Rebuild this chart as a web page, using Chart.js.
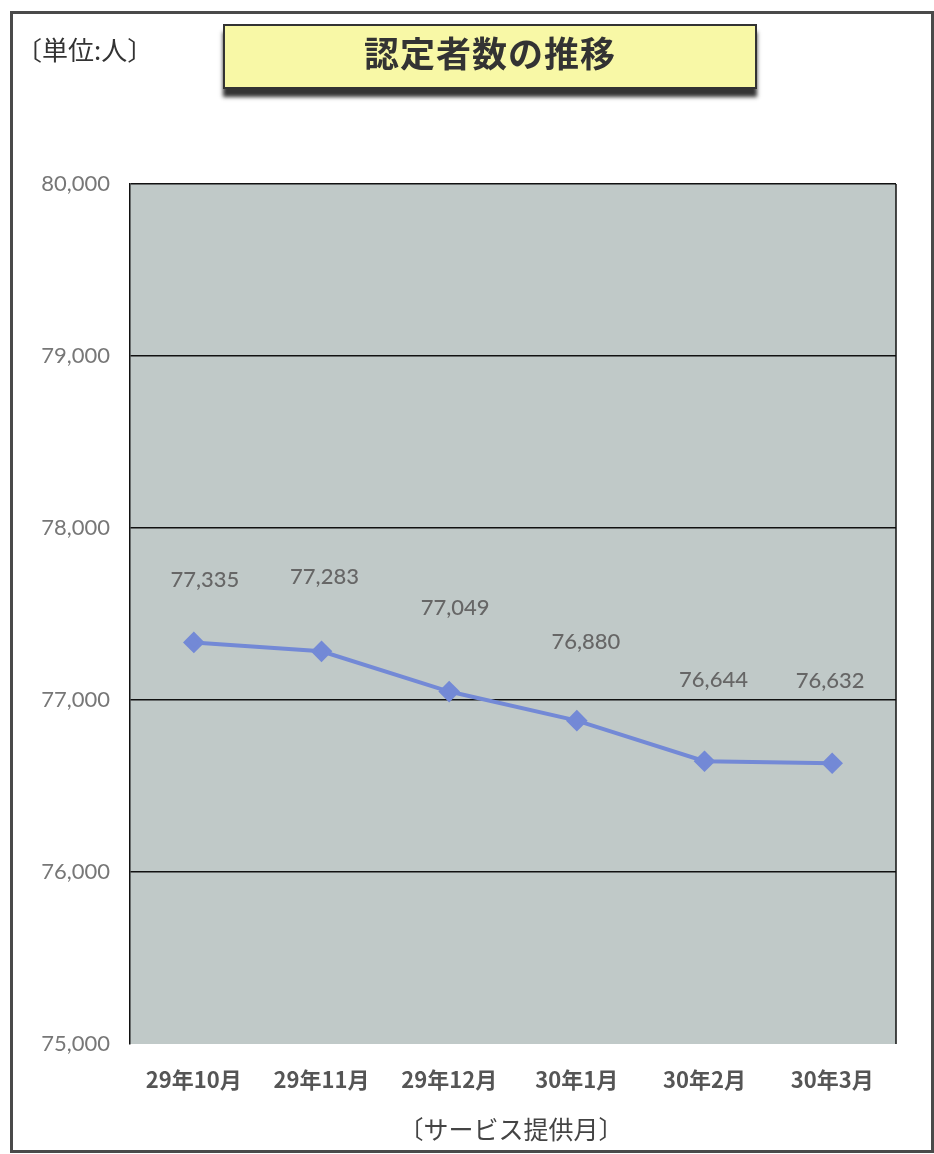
<!DOCTYPE html>
<html>
<head>
<meta charset="utf-8">
<script src="https://cdn.jsdelivr.net/npm/chart.js@4"></script>
<style>
  html, body { margin:0; padding:0; background:#fff; }
  #wrap { position:relative; width:934px; height:1154px; overflow:hidden; }
  #frame { position:absolute; left:10px; top:11px; width:918px; height:1136px; border:3px solid #4a4a4a; box-sizing:content-box; }
  #c { position:absolute; left:0; top:0; }
  #unit { position:absolute; left:16px; top:30px; font:26px "Noto Sans CJK JP"; color:#333; }
  #title { position:absolute; left:223px; top:24px; width:530px; height:61px; background:#f8f8a6; border:2px solid #333;
           box-shadow:0 8px 4px rgba(30,30,30,0.9); text-align:center; line-height:61px;
           font:bold 35px "Noto Sans CJK JP"; color:#333; letter-spacing:1px; }
  #xtitle { position:absolute; left:0; width:1022px; top:1110px; text-align:center; font:25px "Noto Sans CJK JP"; color:#444; }
</style>
</head>
<body>
<div id="wrap">
  <canvas id="c" width="934" height="1154"></canvas>
  <div id="frame"></div>
  <div id="unit">〔単位:人〕</div>
  <div id="title">認定者数の推移</div>
  <div id="xtitle">〔サービス提供月〕</div>
</div>
<script>
const categories = ["29年10月", "29年11月", "29年12月", "30年1月", "30年2月", "30年3月"];
const values = [77335, 77283, 77049, 76880, 76644, 76632];
const yTicks = [75000, 76000, 77000, 78000, 79000, 80000];

const labelShiftX = [11, 3, 6, 9, 9, -2];
const labelShiftY = [-62, -74, -84, -79, -81, -82];

const plotBg = {
  id: 'plotBg',
  beforeDraw(chart) {
    const {ctx, chartArea: a} = chart;
    ctx.save();
    ctx.fillStyle = '#c0c9c8';
    ctx.fillRect(a.left, a.top, a.right - a.left, a.bottom - a.top);
    ctx.restore();
  },
  afterDraw(chart) {
    const {ctx, chartArea: a} = chart;
    ctx.save();
    ctx.strokeStyle = '#111';
    ctx.lineWidth = 1.5;
    ctx.beginPath();
    ctx.moveTo(a.right, a.top);
    ctx.lineTo(a.right, a.bottom);
    ctx.stroke();
    ctx.restore();
  }
};

const dataLabels = {
  id: 'dataLabels',
  afterDatasetsDraw(chart) {
    const {ctx} = chart;
    const meta = chart.getDatasetMeta(0);
    ctx.save();
    ctx.font = '500 22px Lato';
    ctx.fillStyle = '#666';
    ctx.textAlign = 'center';
    ctx.textBaseline = 'middle';
    meta.data.forEach((pt, i) => {
      const txt = values[i].toLocaleString('en-US');
      ctx.fillText(txt, pt.x + labelShiftX[i], pt.y + labelShiftY[i]);
    });
    ctx.restore();
  }
};

new Chart(document.getElementById('c'), {
  type: 'line',
  data: {
    labels: categories,
    datasets: [{
      data: values,
      borderColor: '#7389d6',
      backgroundColor: '#7389d6',
      borderWidth: 4,
      pointStyle: 'rectRot',
      pointRadius: 8,
      pointHoverRadius: 8,
      tension: 0,
      fill: false
    }]
  },
  options: {
    responsive: false,
    animation: false,
    events: [],
    layout: { padding: { top: 184, right: 38, left: 0, bottom: 0 } },
    plugins: { legend: { display: false }, tooltip: { enabled: false }, title: { display: false } },
    scales: {
      x: {
        type: 'category',
        offset: true,
        grid: { display: false, drawTicks: false },
        border: { display: false },
        ticks: { padding: 22, color: '#555', font: { family: '"Noto Sans CJK JP"', size: 22, weight: 'bold' }, maxRotation: 0 },
        afterFit(scale) { scale.height = 110; }
      },
      y: {
        min: 75000,
        max: 80000,
        afterBuildTicks(scale) { scale.ticks = yTicks.map(v => ({ value: v })); },
        grid: {
          drawTicks: false,
          color: ctx => (ctx.tick && ctx.tick.value === 75000) ? 'rgba(0,0,0,0)' : '#111',
          lineWidth: 1.5
        },
        border: { display: true, color: '#111', width: 1.5 },
        ticks: {
          padding: 20,
          color: '#777',
          font: { family: 'Lato', size: 22 },
          callback: v => Number(v).toLocaleString('en-US')
        },
        afterFit(scale) { scale.width = 130; }
      }
    }
  },
  plugins: [plotBg, dataLabels]
});
</script>
</body>
</html>
